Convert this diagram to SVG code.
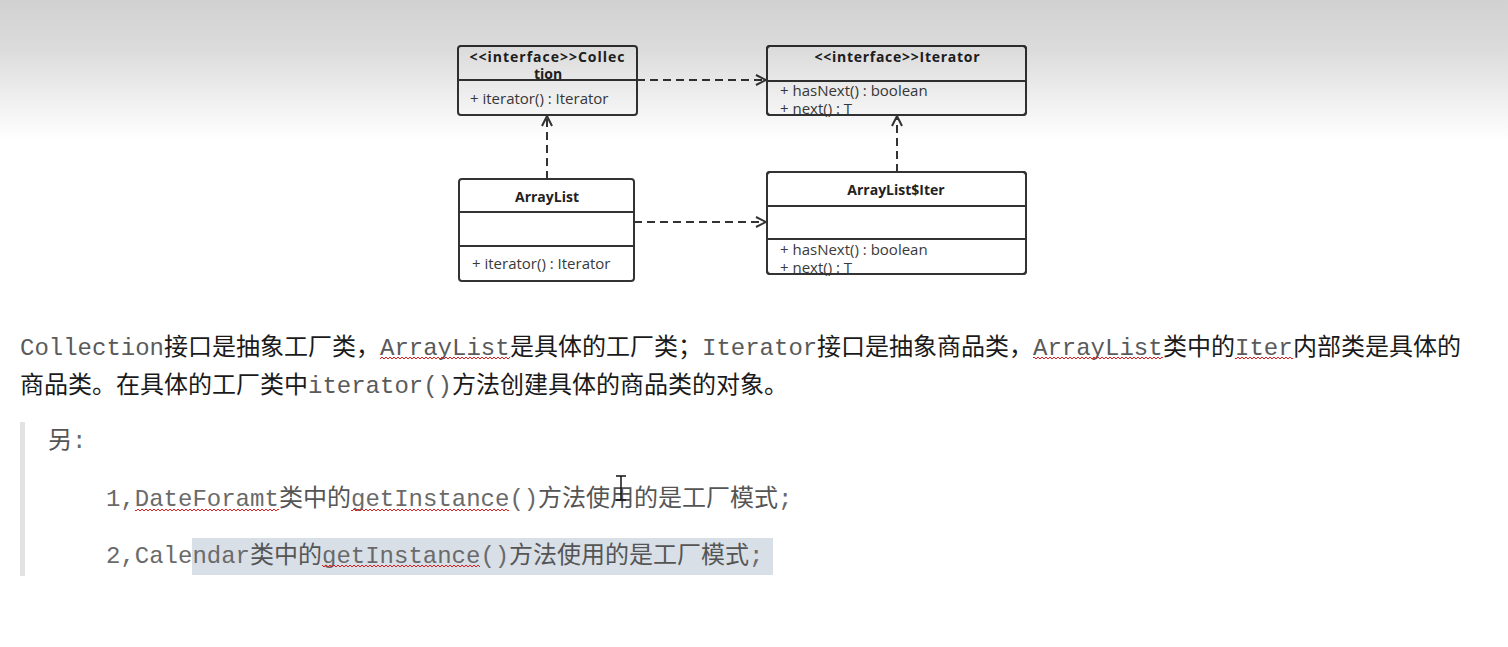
<svg xmlns="http://www.w3.org/2000/svg" width="1508" height="647" viewBox="0 0 1508 647">
<style>
.box{fill:#ffffff;stroke:#333333;stroke-width:2}
.div{stroke:#333333;stroke-width:2}
.title{font-family:"Open Sans","Noto Sans",sans-serif;font-weight:bold;font-size:14px;fill:#222222;text-anchor:middle}
.meth{font-family:"Open Sans","Noto Sans",sans-serif;font-size:15px;fill:#3a3a3a}
.conn{fill:none;stroke:#333333;stroke-width:2;stroke-dasharray:8 5}
.mono{font-family:"Liberation Mono","Noto Sans CJK SC",monospace;font-size:24px;fill:#5a5a5a}
.cjk{font-family:"Noto Sans CJK SC",sans-serif;font-size:24px;fill:#1a1a1a}
.gmono{font-family:"Liberation Mono","Noto Sans CJK SC",monospace;font-size:24px;fill:#6a6a6a}
.gcjk{font-family:"Noto Sans CJK SC",sans-serif;font-size:24px;fill:#555555}
.wave{fill:url(#wave)}
</style>
<defs>
<linearGradient id="shade" x1="0" y1="0" x2="0" y2="1">
<stop offset="0" stop-color="#000" stop-opacity="0.18"/>
<stop offset="0.35" stop-color="#000" stop-opacity="0.14"/>
<stop offset="1" stop-color="#000" stop-opacity="0"/>
</linearGradient>
<pattern id="wave" x="0" y="0" width="4" height="4" patternUnits="userSpaceOnUse">
<path d="M0,3 L2,1 L4,3" fill="none" stroke="#e02020" stroke-width="1"/>
</pattern>
<marker id="open" viewBox="0 0 12 12" refX="11" refY="6" markerWidth="12" markerHeight="12" markerUnits="userSpaceOnUse" orient="auto">
<path d="M1,1 L11,6 L1,11" fill="none" stroke="#333333" stroke-width="2"/>
</marker>
</defs>
<rect x="0" y="0" width="1508" height="647" fill="#ffffff"/>

<g id="connectors">
<path class="conn" d="M637,80 L766,80" marker-end="url(#open)"/>
<path class="conn" d="M634,222 L766,222" marker-end="url(#open)"/>
<path class="conn" d="M547,179 L547,116" marker-end="url(#open)"/>
<path class="conn" d="M897,172 L897,116" marker-end="url(#open)"/>
</g>

<g id="collection">
<rect class="box" x="458" y="46" width="179" height="69" rx="3"/>
<line class="div" x1="458" y1="80" x2="637" y2="80"/>
<text class="title" x="547" y="62" textLength="155" lengthAdjust="spacing">&lt;&lt;interface&gt;&gt;Collec</text>
<text class="title" x="548" y="79">tion</text>
<text class="meth" x="470" y="104">+ iterator() : Iterator</text>
</g>

<g id="iterator">
<rect class="box" x="767" y="46" width="259" height="69" rx="3"/>
<line class="div" x1="767" y1="81" x2="1026" y2="81"/>
<text class="title" x="897" y="62" textLength="165" lengthAdjust="spacing">&lt;&lt;interface&gt;&gt;Iterator</text>
<text class="meth" x="780" y="96">+ hasNext() : boolean</text>
<text class="meth" x="780" y="114">+ next() : T</text>
<rect x="767" y="46" width="259" height="69" rx="3" fill="none" stroke="#333333" stroke-width="2"/>
</g>

<g id="arraylist">
<rect class="box" x="459" y="179" width="175" height="102" rx="3"/>
<line class="div" x1="459" y1="212" x2="634" y2="212"/>
<line class="div" x1="459" y1="246" x2="634" y2="246"/>
<text class="title" x="547" y="202">ArrayList</text>
<text class="meth" x="472" y="269">+ iterator() : Iterator</text>
</g>

<g id="arraylist-iter">
<rect class="box" x="767" y="172" width="259" height="102" rx="3"/>
<line class="div" x1="767" y1="206" x2="1026" y2="206"/>
<line class="div" x1="767" y1="239" x2="1026" y2="239"/>
<text class="title" x="896" y="195">ArrayList$Iter</text>
<text class="meth" x="780" y="255">+ hasNext() : boolean</text>
<text class="meth" x="780" y="273">+ next() : T</text>
<rect x="767" y="172" width="259" height="102" rx="3" fill="none" stroke="#333333" stroke-width="2"/>
</g>

<g id="paragraph">
<text class="mono" x="20" y="355">Collection</text>
<text class="cjk" x="164" y="355">接口是抽象工厂类，</text>
<text class="mono" x="380" y="355">ArrayList</text>
<text class="cjk" x="510" y="355">是具体的工厂类；</text>
<text class="mono" x="702" y="355">Iterator</text>
<text class="cjk" x="817" y="355">接口是抽象商品类，</text>
<text class="mono" x="1033" y="355">ArrayList</text>
<text class="cjk" x="1163" y="355">类中的</text>
<text class="mono" x="1235" y="355">Iter</text>
<text class="cjk" x="1293" y="355">内部类是具体的</text>
<text class="cjk" x="20" y="393">商品类。在具体的工厂类中</text>
<text class="mono" x="308" y="393">iterator()</text>
<text class="cjk" x="452" y="393">方法创建具体的商品类的对象。</text>
<rect class="wave" x="380" y="356" width="130" height="4"/>
<rect class="wave" x="1033" y="356" width="130" height="4"/>
<rect class="wave" x="1235" y="356" width="58" height="4"/>
</g>

<g id="blockquote">
<rect x="20" y="422" width="5" height="154" fill="#e2e2e2"/>
<rect x="192" y="538" width="581" height="37" fill="#d8dfe7"/>
<text class="gcjk" x="48" y="448">另</text>
<text class="gmono" x="72" y="448">:</text>
<text class="gmono" x="106" y="506">1,DateForamt</text>
<text class="gcjk" x="279" y="506">类中的</text>
<text class="gmono" x="351" y="506">getInstance()</text>
<text class="gcjk" x="538" y="506">方法使用的是工厂模式</text>
<text class="gmono" x="778" y="506">;</text>
<text class="gmono" x="106" y="563">2,Calendar</text>
<text class="gcjk" x="250" y="563">类中的</text>
<text class="gmono" x="322" y="563">getInstance()</text>
<text class="gcjk" x="509" y="563">方法使用的是工厂模式</text>
<text class="gmono" x="749" y="563">;</text>
<rect class="wave" x="135" y="508" width="144" height="4"/>
<rect class="wave" x="351" y="508" width="158" height="4"/>
<rect class="wave" x="322" y="565" width="158" height="4"/>
</g>

<g id="cursor" stroke="#111111" stroke-width="1.5" fill="none">
<path d="M616,476 L626,476 M621,476 L621,500 M616,500 L626,500"/>
</g>

<rect x="0" y="0" width="1508" height="140" fill="url(#shade)"/>
</svg>
